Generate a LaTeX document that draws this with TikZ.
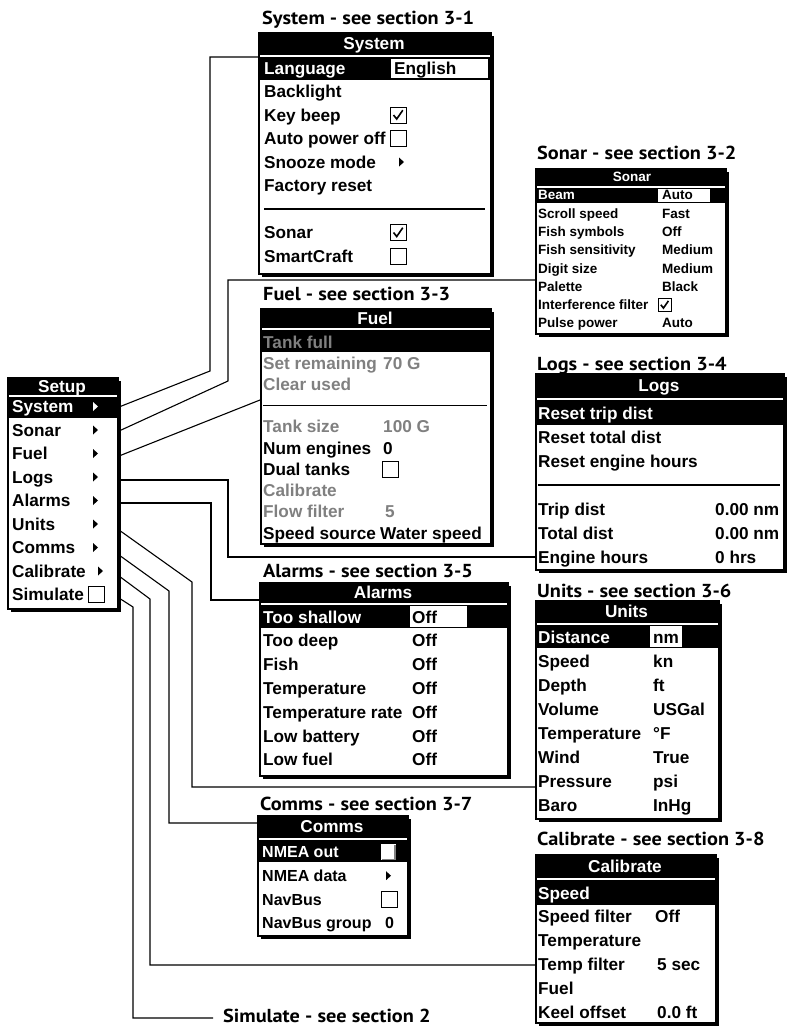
\documentclass[tikz,border=0pt]{standalone}
\usepackage{fontspec}
\usetikzlibrary{shadows}
\newfontfamily\mfam{Liberation Sans}
\newfontfamily\lfam{PT Sans}[FakeStretch=1.08]
\newcommand\MF{\mfam\bfseries\fontsize{17.2}{17.2}\selectfont}
\newcommand\SF{\mfam\bfseries\fontsize{13.5}{13.5}\selectfont}
\newcommand\CF{\mfam\bfseries\fontsize{16}{16}\selectfont}
\newcommand\LF{\lfam\bfseries\fontsize{18.8}{18.8}\selectfont}
\definecolor{dis}{gray}{0.5}
\newcommand\tri[3][black]{\fill[#1] (#2,#3-4.5) -- (#2+5,#3) -- (#2,#3+4.5) -- cycle;}
\newcommand\cbx[3]{\draw[cbox] (#1,#2-#3/2) rectangle (#1+#3,#2+#3/2);}
\newcommand\chk[3]{\cbx{#1}{#2}{#3}\draw[tick] (#1+0.22*#3,#2) -- (#1+0.42*#3,#2+0.25*#3) -- (#1+0.8*#3,#2-0.3*#3);}
\begin{document}
\begin{tikzpicture}[x=1pt,y=-1pt,
  frame/.style={draw=black,line width=1.5pt,fill=white,anchor=north west,inner sep=0pt,
     drop shadow={shadow xshift=3pt,shadow yshift=-3pt,opacity=1,fill=black}},
  conn/.style={line width=1.1pt,black},
  mt/.style={font=\MF,anchor=base west,inner sep=0pt},
  st/.style={font=\SF,anchor=base west,inner sep=0pt},
  ct/.style={font=\CF,anchor=base west,inner sep=0pt},
  ttl/.style={font=\MF,text=white,anchor=base,inner sep=0pt},
  sttl/.style={font=\SF,text=white,anchor=base,inner sep=0pt},
  lbl/.style={font=\LF,anchor=base west,inner sep=0pt},
  sepline/.style={line width=1.2pt},
  cbox/.style={draw=black,line width=0.8pt,fill=white},
  tick/.style={line width=1.6pt},
]
\useasboundingbox (0,0) rectangle (787,1026);
\fill[white] (0,0) rectangle (787,1026);

% ---------- connectors (start points) ----------
\coordinate (sSys) at (119,407);
\coordinate (sSon) at (119,431);
\coordinate (sFuel) at (119,456);
\coordinate (sLogs) at (119,480);
\coordinate (sAl) at (119,503);
\coordinate (sUn) at (119,530);
\coordinate (sCo) at (119,555);
\coordinate (sCa) at (119,576);
\coordinate (sSi) at (119,598);
\coordinate (simEnd) at (213,1018);

% ---------- Setup ----------
\node[frame,minimum width=110pt,minimum height=231pt] (setup) at (7,377) {};
\fill (7,377) rectangle (117,395);
\fill (7,396.5) rectangle (117,418);
\node[ttl] (setupT) at (62,392) {Setup};
\node[mt,text=white] (su1) at (12,412.5) {System};
\node[mt] (su2) at (12,436) {Sonar};
\node[mt] (su3) at (12,459.5) {Fuel};
\node[mt] (su4) at (12,483) {Logs};
\node[mt] (su5) at (12,506.5) {Alarms};
\node[mt] (su6) at (12,530) {Units};
\node[mt] (su7) at (12,553.5) {Comms};
\node[mt] (su8) at (12,577) {Calibrate};
\node[mt] (su9) at (12,600.5) {Simulate};
\tri[white]{93}{406.5}
\tri{93}{430}
\tri{93}{453.5}
\tri{93}{477}
\tri{93}{500.5}
\tri{93}{524}
\tri{93}{547.5}
\tri{98}{571}
\cbx{88}{594.5}{16}

% ---------- System ----------
\node[lbl] (sysL) at (262,24.5) {System - see section 3-1};
\node[frame,minimum width=232pt,minimum height=241pt] (sys) at (258,32) {};
\fill (258,32) rectangle (490,55);
\fill (258,56.5) rectangle (490,79.5);
\fill[white] (390.5,58.5) rectangle (487.5,77.5);
\node[ttl] (sysT) at (374,49.5) {System};
\node[mt,text=white] (sy1) at (264,74) {Language};
\node[mt] (sy1v) at (394,74) {English};
\node[mt] (sy2) at (264,97.5) {Backlight};
\node[mt] (sy3) at (264,121) {Key beep};
\node[mt] (sy4) at (264,144.5) {Auto power off};
\node[mt] (sy5) at (264,168) {Snooze mode};
\node[mt] (sy6) at (264,191.5) {Factory reset};
\draw[sepline] (264,209) -- (485,209);
\node[mt] (sy7) at (264,238.5) {Sonar};
\node[mt] (sy8) at (264,262) {SmartCraft};
\chk{390}{115}{16}
\cbx{390}{138.5}{16}
\tri{399}{162}
\chk{390}{232.5}{16}
\cbx{390}{256}{16}

% ---------- Sonar ----------
\node[lbl] (sonL) at (537,159.5) {Sonar - see section 3-2};
\node[frame,minimum width=190pt,minimum height=165pt] (sonar) at (535,168) {};
\fill (535,168) rectangle (725,186);
\fill (535,187.5) rectangle (725,203);
\fill[white] (658,188.5) rectangle (710,202);
\node[sttl] (sonT) at (632,181.5) {Sonar};
\node[st,text=white] (so1) at (538,199.8) {Beam};
\node[st] (so1v) at (662,199.8) {Auto};
\node[st] (so2) at (538,218.1) {Scroll speed};
\node[st] (so2v) at (662,218.1) {Fast};
\node[st] (so3) at (538,236.4) {Fish symbols};
\node[st] (so3v) at (662,236.4) {Off};
\node[st] (so4) at (538,254.7) {Fish sensitivity};
\node[st] (so4v) at (662,254.7) {Medium};
\node[st] (so5) at (538,273) {Digit size};
\node[st] (so5v) at (662,273) {Medium};
\node[st] (so6) at (538,291.3) {Palette};
\node[st] (so6v) at (662,291.3) {Black};
\node[st] (so7) at (538,309.6) {Interference filter};
\chk{658}{304.8}{13}
\node[st] (so8) at (538,327.9) {Pulse power};
\node[st] (so8v) at (662,327.9) {Auto};

% ---------- Fuel ----------
\node[lbl] (fuelL) at (263,300) {Fuel - see section 3-3};
\node[frame,minimum width=230pt,minimum height=235pt] (fuel) at (260,308) {};
\fill (260,308) rectangle (490,328);
\fill (260,329.5) rectangle (490,352);
\node[ttl] (fuelT) at (375,324) {Fuel};
\node[mt,text=dis] (fu1) at (263,348) {Tank full};
\node[mt,text=dis] (fu2) at (263,369.2) {Set remaining};
\node[mt,text=dis] (fu2v) at (383,369.2) {70 G};
\node[mt,text=dis] (fu3) at (263,390.4) {Clear used};
\draw[sepline] (263,405.7) -- (487,405.7);
\node[mt,text=dis] (fu4) at (263,432.9) {Tank size};
\node[mt,text=dis] (fu4v) at (383,432.9) {100 G};
\node[mt] (fu5) at (263,454.1) {Num engines};
\node[mt] (fu5v) at (383,454.1) {0};
\node[mt] (fu6) at (263,475.3) {Dual tanks};
\cbx{382}{469.3}{16}
\node[mt,text=dis] (fu7) at (263,496.6) {Calibrate};
\node[mt,text=dis] (fu8) at (263,517.8) {Flow filter};
\node[mt,text=dis] (fu8v) at (385,517.8) {5};
\node[mt] (fu9) at (263,539) {Speed source};
\node[mt] (fu9v) at (380,539) {Water speed};

% ---------- Logs ----------
\node[lbl] (logsL) at (537,370) {Logs - see section 3-4};
\node[frame,minimum width=248pt,minimum height=196pt] (logs) at (535,373) {};
\fill (535,373) rectangle (783,398);
\fill (535,399.5) rectangle (783,425);
\node[ttl] (logsT) at (659,391.5) {Logs};
\node[mt,text=white] (lo1) at (538,419) {Reset trip dist};
\node[mt] (lo2) at (538,443) {Reset total dist};
\node[mt] (lo3) at (538,467) {Reset engine hours};
\draw[sepline] (538,485) -- (780,485);
\node[mt] (lo4) at (538,515) {Trip dist};
\node[mt] (lo4v) at (715,515) {0.00 nm};
\node[mt] (lo5) at (538,539) {Total dist};
\node[mt] (lo5v) at (715,539) {0.00 nm};
\node[mt] (lo6) at (538,563) {Engine hours};
\node[mt] (lo6v) at (715,563) {0 hrs};

% ---------- Alarms ----------
\node[lbl] (alL) at (263,577) {Alarms - see section 3-5};
\node[frame,minimum width=248pt,minimum height=193pt] (alarms) at (259,582) {};
\fill (259,582) rectangle (507,603);
\fill (259,604.5) rectangle (507,628);
\fill[white] (410,606) rectangle (467,626.5);
\node[ttl] (alT) at (383,598.5) {Alarms};
\node[mt,text=white] (al1) at (263,623) {Too shallow};
\node[mt] (al1v) at (412,623) {Off};
\node[mt] (al2) at (263,646.8) {Too deep};
\node[mt] (al2v) at (412,646.8) {Off};
\node[mt] (al3) at (263,670.6) {Fish};
\node[mt] (al3v) at (412,670.6) {Off};
\node[mt] (al4) at (263,694.4) {Temperature};
\node[mt] (al4v) at (412,694.4) {Off};
\node[mt] (al5) at (263,718.2) {Temperature rate};
\node[mt] (al5v) at (412,718.2) {Off};
\node[mt] (al6) at (263,742) {Low battery};
\node[mt] (al6v) at (412,742) {Off};
\node[mt] (al7) at (263,765.8) {Low fuel};
\node[mt] (al7v) at (412,765.8) {Off};

% ---------- Units ----------
\node[lbl] (unL) at (537,597) {Units - see section 3-6};
\node[frame,minimum width=183pt,minimum height=218pt] (units) at (535,600) {};
\fill (535,600) rectangle (718,623);
\fill (535,624.5) rectangle (718,648);
\fill[white] (650,626) rectangle (682,646.5);
\node[ttl] (unT) at (626.5,617.5) {Units};
\node[mt,text=white] (un1) at (538,643) {Distance};
\node[mt] (un1v) at (653,643) {nm};
\node[mt] (un2) at (538,667) {Speed};
\node[mt] (un2v) at (653,667) {kn};
\node[mt] (un3) at (538,691) {Depth};
\node[mt] (un3v) at (653,691) {ft};
\node[mt] (un4) at (538,715) {Volume};
\node[mt] (un4v) at (653,715) {USGal};
\node[mt] (un5) at (538,739) {Temperature};
\node[mt] (un5v) at (653,739) {°F};
\node[mt] (un6) at (538,763) {Wind};
\node[mt] (un6v) at (653,763) {True};
\node[mt] (un7) at (538,787) {Pressure};
\node[mt] (un7v) at (653,787) {psi};
\node[mt] (un8) at (538,811) {Baro};
\node[mt] (un8v) at (653,811) {InHg};

% ---------- Comms ----------
\node[lbl] (coL) at (260,810) {Comms - see section 3-7};
\node[frame,minimum width=150pt,minimum height=120pt] (comms) at (257,815) {};
\fill (257,815) rectangle (407,838);
\fill (257,839.5) rectangle (407,862);
\node[ttl] (coT) at (332,832.5) {Comms};
\node[ct,text=white] (co1) at (262,857.7) {NMEA out};
\fill[white] (381,844) rectangle (396,860);
\draw[gray,line width=1.2pt] (395,845) -- (395,859.2) -- (382,859.2);
\node[ct] (co2) at (262,881.4) {NMEA data};
\tri{386}{875.7}
\node[ct] (co3) at (262,905) {NavBus};
\cbx{381}{899.3}{16}
\node[ct] (co4) at (262,928.7) {NavBus group};
\node[ct] (co4v) at (385,928.7) {0};

% ---------- Calibrate ----------
\node[lbl] (caL) at (537,845) {Calibrate - see section 3-8};
\node[frame,minimum width=180pt,minimum height=168pt] (calib) at (535,854) {};
\fill (535,854) rectangle (715,878);
\fill (535,879.5) rectangle (715,905);
\node[ttl] (caT) at (625,872) {Calibrate};
\node[mt,text=white] (ca1) at (538,899) {Speed};
\node[mt] (ca2) at (538,922.8) {Speed filter};
\node[mt] (ca2v) at (655,922.8) {Off};
\node[mt] (ca3) at (538,946.6) {Temperature};
\node[mt] (ca4) at (538,970.4) {Temp filter};
\node[mt] (ca4v) at (657,970.4) {5 sec};
\node[mt] (ca5) at (538,994.2) {Fuel};
\node[mt] (ca6) at (538,1018) {Keel offset};
\node[mt] (ca6v) at (657,1018) {0.0 ft};

% ---------- Simulate label ----------
\node[lbl] (siL) at (223,1022.5) {Simulate - see section 2};

% ---------- connector lines ----------
\draw[conn] (sSys) -- (210,371) |- (sys.west |- 0,57);
\draw[conn] (sSon) -- (228,381) |- (sonar.west |- 0,280);
\draw[conn] (sFuel) -- (fuel.west |- 0,400);
\draw[conn] (sLogs) -- (228,480) |- (logs.west |- 0,557);
\draw[conn] (sAl) -- (211,503) |- (alarms.west |- 0,600);
\draw[conn] (sUn) -- (192,582) |- (units.west |- 0,787);
\draw[conn] (sCo) -- (169,591) |- (comms.west |- 0,823);
\draw[conn] (sCa) -- (150,599) |- (calib.west |- 0,965);
\draw[conn] (sSi) -- (133,607) |- (simEnd);
\end{tikzpicture}
\end{document}
